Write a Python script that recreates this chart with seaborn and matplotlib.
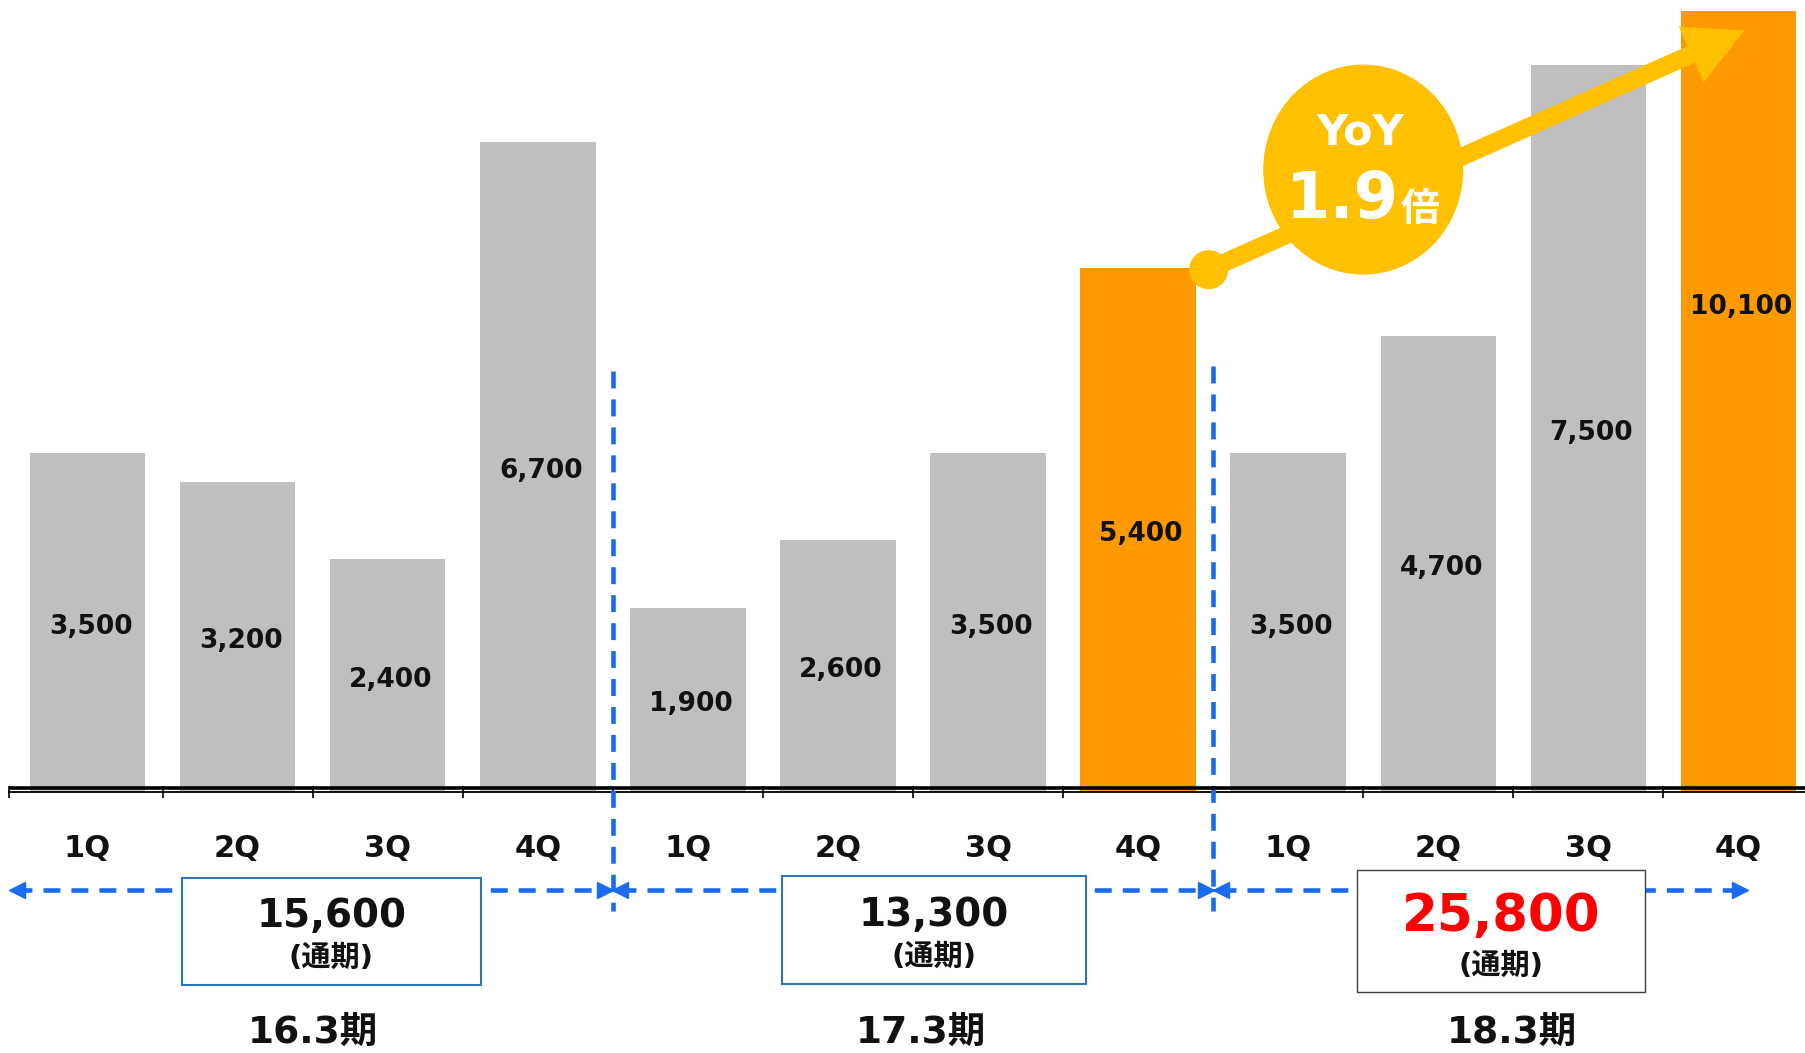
import numpy as np
import pandas as pd
import matplotlib.pyplot as plt
import seaborn as sns
from matplotlib.patches import Ellipse, Rectangle

# data
quarters = ['1Q', '2Q', '3Q', '4Q'] * 3
periods = ['16.3期'] * 4 + ['17.3期'] * 4 + ['18.3期'] * 4
sales = [3500, 3200, 2400, 6700, 1900, 2600, 3500, 5400, 3500, 4700, 7500, 10100]
highlight = [False] * 7 + [True] + [False] * 3 + [True]
period_names = ['16.3期', '17.3期', '18.3期']
period_totals = [15600, 13300, 25800]
yoy_ratio = '1.9'

GRAY = '#BFBFBF'
ORANGE = '#FF9900'
GOLD = '#FFC000'
BLUE = '#1A6BF2'

sns.set_theme(style='white')
plt.rcParams['font.family'] = ['DejaVu Sans', 'Noto Sans CJK JP']
plt.rcParams['font.weight'] = 'bold'

df = pd.DataFrame({'period': periods, 'quarter': quarters, 'sales': sales})
df['key'] = df['period'] + df['quarter']
palette = [ORANGE if h else GRAY for h in highlight]

fig = plt.figure(figsize=(18.06, 10.53), dpi=100)
ax = fig.add_axes([0.005, 0.248, 0.995, 0.742])
sns.barplot(data=df, x='key', y='sales', hue='key', palette=palette, legend=False,
            width=0.77, saturation=1, linewidth=0, ax=ax)
ax.set_xlim(-0.523, 11.45)
ax.set_ylim(0, 8060)

# value labels in the middle of each bar
for i, v in enumerate(df['sales']):
    ax.text(i + 0.02, v / 2 - 45, f'{v:,}', ha='center', va='center', fontsize=19,
            fontweight='bold', color='#111111', zorder=6)

# axis: thin spine + thick line just above, ticks between bars
for s in ['top', 'right', 'left']:
    ax.spines[s].set_visible(False)
ax.spines['bottom'].set_color('black')
ax.spines['bottom'].set_linewidth(1.3)
ax.axhline(42, color='black', lw=2.6, zorder=5)
ax.set_yticks([])
ax.set_xticks(range(len(quarters)))
ax.set_xticklabels(quarters, fontsize=22, fontweight='bold', color='#111111')
ax.set_xticks([-0.52] + [i + 0.5 for i in range(11)], minor=True)
ax.tick_params(axis='x', which='major', length=0, pad=30)
ax.tick_params(axis='x', which='minor', direction='inout', length=9, width=1.2,
               color='black', bottom=True)
ax.set_xlabel('')
ax.set_ylabel('')

# period separators and span arrows
bounds = [-0.52, 3.5, 7.5, 11.06]
arrow_y = -1011
dash = (0, (3.7, 2.4))
for xb, top in [(3.5, 4345), (7.5, 4396)]:
    ax.plot([xb, xb], [top, -1230], color=BLUE, lw=3.3, ls=dash,
            clip_on=False, zorder=4)
for k in range(3):
    x0, x1 = bounds[k], bounds[k + 1]
    ax.plot([x0 + 0.04, x1 - 0.04], [arrow_y, arrow_y], color=BLUE, lw=3.3,
            ls=dash, clip_on=False, zorder=3)
    ax.plot(x0 + 0.05, arrow_y, marker='<', ms=12, color=BLUE, mec=BLUE, clip_on=False, zorder=4)
    ax.plot(x1 - 0.05, arrow_y, marker='>', ms=12, color=BLUE, mec=BLUE, clip_on=False, zorder=4)

# full-year total boxes
boxes = [(0.63, 2.62, -887, -1992, '#2E75B6', 1.5),
         (4.63, 6.65, -867, -1981, '#2E75B6', 1.5),
         (8.46, 10.38, -805, -2064, '#404040', 1.0)]
num_y = [-1285, -1275, -1290]
sub_y = [-1715, -1705, -1790]
num_col = ['#111111', '#111111', '#FF0000']
num_size = [28, 28, 37]
label_x = [1.5, 5.55, 9.49]
for k, (bx0, bx1, by0, by1, ec, lw) in enumerate(boxes):
    ax.add_patch(Rectangle((bx0, by1), bx1 - bx0, by0 - by1, facecolor='white',
                           edgecolor=ec, lw=lw, clip_on=False, zorder=6))
    cx = (bx0 + bx1) / 2
    ax.text(cx, num_y[k], f'{period_totals[k]:,}', ha='center', va='center',
            fontsize=num_size[k], fontweight='bold', color=num_col[k], zorder=7)
    ax.text(cx, sub_y[k], '(通期)', ha='center', va='center', fontsize=21,
            fontweight='bold', color='#111111', zorder=7)
    ax.text(label_x[k], -2500, period_names[k], ha='center', va='center',
            fontsize=27, fontweight='bold', color='#111111', zorder=7)

# YoY callout
ax.annotate('', xy=(11.04, 7853), xytext=(7.47, 5387), annotation_clip=False,
            arrowprops=dict(facecolor=GOLD, edgecolor='none', width=13,
                            headwidth=44, headlength=42, shrink=0), zorder=8)
ax.scatter([7.47], [5387], s=790, color=GOLD, edgecolor='none', zorder=9, clip_on=False)
ax.add_patch(Ellipse((8.50, 6419), width=1.333, height=2167, facecolor=GOLD,
                     edgecolor='none', zorder=9))
ax.text(8.48, 6801, 'YoY', ha='center', va='center', fontsize=31,
        fontweight='bold', color='white', zorder=10)
ax.text(8.36, 6109, yoy_ratio, ha='center', va='center', fontsize=46,
        fontweight='bold', color='white', zorder=10)
ax.text(8.88, 6000, '倍', ha='center', va='center', fontsize=28,
        fontweight='bold', color='white', zorder=10)

fig.savefig('out.png', dpi=100)
